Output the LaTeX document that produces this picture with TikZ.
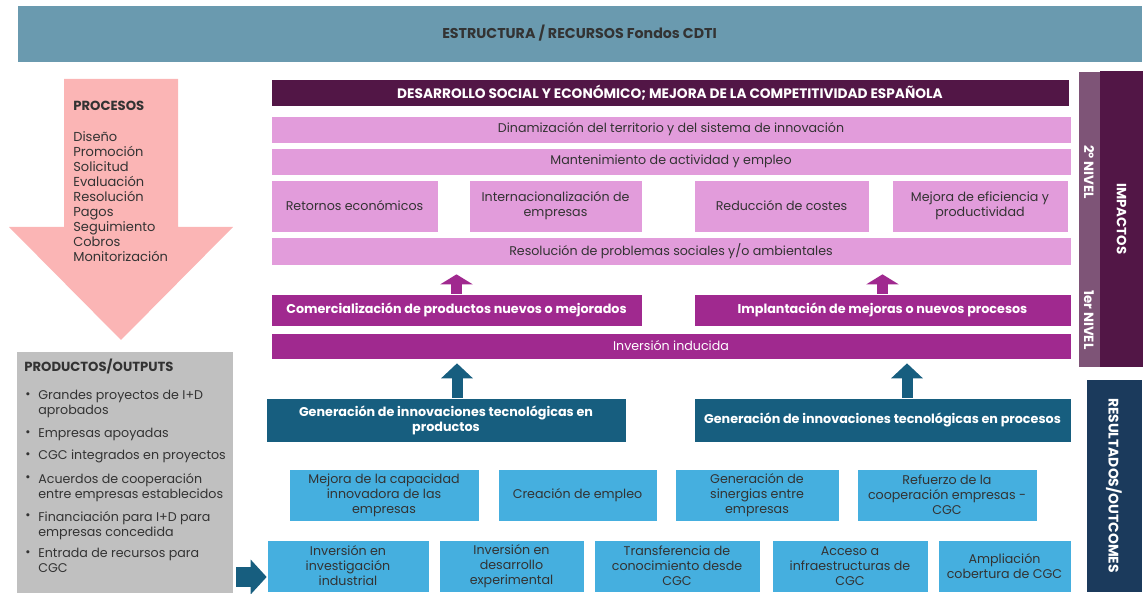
\documentclass[tikz,border=0pt]{standalone}
\usepackage{fontspec}
\setmainfont{Poppins}
\usetikzlibrary{arrows.meta}

\definecolor{banner}{HTML}{6A9AAF}
\definecolor{darkplum}{HTML}{521646}
\definecolor{lightplum}{HTML}{7E5477}
\definecolor{rosebox}{HTML}{E29CDB}
\definecolor{midplum}{HTML}{A0298F}
\definecolor{petrol}{HTML}{175E7F}
\definecolor{skyblue}{HTML}{45AFDF}
\definecolor{navy}{HTML}{1B3A5C}
\definecolor{greybox}{HTML}{C0C0C0}
\definecolor{salmon}{HTML}{FBB5B5}
\definecolor{ink}{HTML}{333333}

\begin{document}
\begin{tikzpicture}[x=0.02cm, y=-0.02cm,
	font=\fontsize{7.2}{8.54}\selectfont, text=ink,
	box/.style={draw=white, line width=0.4pt, inner sep=1pt, align=center},
	rose/.style={box, fill=rosebox},
	plum/.style={box, fill=midplum, text=white, font=\fontsize{7.25}{8.54}\selectfont\bfseries},
	petrolbox/.style={box, fill=petrol, text=white, font=\fontsize{7.25}{8.54}\selectfont\bfseries},
	sky/.style={box, fill=skyblue},
	upplum/.style={draw=midplum, line width=0.22cm, -{Triangle[width=0.64cm, length=0.2cm]}},
	uppetrol/.style={draw=petrol, line width=0.22cm, -{Triangle[width=0.62cm, length=0.3cm]}},
	sidetext/.style={rotate=-90, text=white, font=\fontsize{7.6}{8.5}\selectfont\bfseries}]
	\useasboundingbox (0,0) rectangle (1143,594);

	% top banner
	\node[box, fill=banner, minimum width=22.5cm, minimum height=1.14cm, font=\fontsize{8.1}{9}\selectfont\bfseries] (banner) at (579.5,33.5) {ESTRUCTURA / RECURSOS Fondos CDTI};

	% processes arrow
	\fill[salmon] (64,79) -- (178,79) -- (178,227) -- (233,227) -- (121,340) -- (9,227) -- (64,227) -- cycle;
	\node[anchor=north west, inner sep=0, font=\fontsize{7.5}{8.5}\selectfont\bfseries] (procesos) at (73,101) {PROCESOS};
	\node[anchor=north west, inner sep=0, align=left, font=\fontsize{7.4}{8.54}\selectfont] (pasos) at (73,131)
		{Diseño\\Promoción\\Solicitud\\Evaluación\\Resolución\\Pagos\\Seguimiento\\Cobros\\Monitorización};

	% outputs
	\node[fill=greybox, minimum width=4.32cm, minimum height=4.82cm] (outputs) at (125,472.5) {};
	\node[anchor=west, inner sep=0, font=\fontsize{7.5}{8.5}\selectfont\bfseries] (outtitle) at (24,366) {PRODUCTOS/OUTPUTS};
	\foreach \y/\t [count=\i] in {396/{Grandes proyectos de I+D\\aprobados}, 434/{Empresas apoyadas},
		456/{CGC integrados en proyectos}, 479/{Acuerdos de cooperación\\entre empresas establecidos},
		517/{Financiación para I+D para\\empresas concedida}, 554/{Entrada de recursos para\\CGC}} {
		\node[anchor=center, inner sep=0] (bul\i) at (28,\y) {•};
		\node[anchor=north west, inner sep=0, align=left] (item\i) at (38,\y-6) {\t};
	}

	% impacts
	\node[box, fill=darkplum, text=white, minimum width=15.96cm, minimum height=0.54cm, font=\fontsize{7.8}{8.5}\selectfont\bfseries] (desarrollo) at (670,92.5) {DESARROLLO SOCIAL Y ECONÓMICO; MEJORA DE LA COMPETITIVIDAD ESPAÑOLA};
	\node[rose, minimum width=16cm, minimum height=0.54cm] (dinam) at (671,129.5) {Dinamización del territorio y del sistema de innovación};
	\node[rose, minimum width=16cm, minimum height=0.54cm] (mant) at (671,161.5) {Mantenimiento de actividad y empleo};
	\node[rose, minimum width=3.34cm, minimum height=1.04cm] (retornos) at (354.5,206) {Retornos económicos};
	\node[rose, minimum width=3.46cm, minimum height=1.04cm] (internac) at (555.5,206) {Internacionalización de\\empresas};
	\node[rose, minimum width=3.5cm, minimum height=1.04cm] (costes) at (781.5,206) {Reducción de costes};
	\node[rose, minimum width=3.52cm, minimum height=1.04cm] (eficiencia) at (980,206) {Mejora de eficiencia y\\productividad};
	\node[rose, minimum width=16cm, minimum height=0.56cm] (problemas) at (671,251) {Resolución de problemas sociales y/o ambientales};
	\node[plum, minimum width=7.42cm, minimum height=0.64cm] (comerc) at (456.5,310) {Comercialización de productos nuevos o mejorados};
	\node[plum, minimum width=7.54cm, minimum height=0.64cm] (implant) at (882.5,310) {Implantación de mejoras o nuevos procesos};
	\node[box, fill=midplum, text=white, minimum width=16cm, minimum height=0.52cm] (inducida) at (671,346) {Inversión inducida};

	% outcomes
	\node[petrolbox, minimum width=7.2cm, minimum height=0.88cm] (genprod) at (446,420) {Generación de innovaciones tecnológicas en\\productos};
	\node[petrolbox, minimum width=7.54cm, minimum height=0.88cm] (genproc) at (882.5,420) {Generación de innovaciones tecnológicas en procesos};
	\node[sky, minimum width=3.8cm, minimum height=1.04cm] (capacidad) at (384,495) {Mejora de la capacidad\\innovadora de las\\empresas};
	\node[sky, minimum width=3.18cm, minimum height=1.04cm] (empleo) at (577.5,495) {Creación de empleo};
	\node[sky, minimum width=3.28cm, minimum height=1.04cm] (sinergias) at (757,495) {Generación de\\sinergias entre\\empresas};
	\node[sky, minimum width=3.6cm, minimum height=1.04cm] (refuerzo) at (947,495) {Refuerzo de la\\cooperación empresas -\\CGC};
	\node[sky, minimum width=3.24cm, minimum height=1.04cm] (investig) at (348,566) {Inversión en\\investigación\\industrial};
	\node[sky, minimum width=2.9cm, minimum height=1.04cm] (desexp) at (511.5,566) {Inversión en\\desarrollo\\experimental};
	\node[sky, minimum width=3.32cm, minimum height=1.04cm] (transfer) at (677,566) {Transferencia de\\conocimiento desde\\CGC};
	\node[sky, minimum width=3.12cm, minimum height=1.04cm] (acceso) at (850,566) {Acceso a\\infraestructuras de\\CGC};
	\node[sky, minimum width=2.66cm, minimum height=1.04cm] (cobertura) at (1004.5,566) {Ampliación\\cobertura de CGC};

	% side bars
	\node[fill=lightplum, draw=white, line width=0.4pt, minimum width=0.44cm, minimum height=5.92cm, inner sep=0] (nivel) at (1089,219) {};
	\node[fill=darkplum, minimum width=0.86cm, minimum height=5.92cm, inner sep=0] (impactos) at (1121.5,219) {};
	\node[sidetext] (impactostxt) at (impactos) {IMPACTOS};
	\node[sidetext] (nivel2) at (1089,172) {2º NIVEL};
	\node[sidetext] (nivel1) at (1089,320) {1er NIVEL};
	\node[fill=navy, draw=white, line width=0.4pt, minimum width=1.12cm, minimum height=4.26cm, inner sep=0] (resultados) at (1114,485.5) {};
	\node[sidetext, font=\fontsize{7.9}{8.5}\selectfont\bfseries] (resultadostxt) at (resultados) {RESULTADOS/OUTCOMES};

	% block arrows
	\draw[upplum] (comerc.north) -- ([yshift=-0.18cm]problemas.south -| comerc.north);
	\draw[upplum] (implant.north) -- ([yshift=-0.18cm]problemas.south -| implant.north);
	\draw[uppetrol] ([xshift=0.22cm]genprod.north) -- ([xshift=0.22cm, yshift=-0.08cm]inducida.south -| genprod.north);
	\draw[uppetrol] ([xshift=0.49cm]genproc.north) -- ([xshift=0.49cm, yshift=-0.08cm]inducida.south -| genproc.north);
	\coordinate (entrada) at ([yshift=-0.22cm]investig.west);
	\draw[draw=petrol, line width=0.4cm, -{Triangle[width=0.68cm, length=0.32cm]}] ([xshift=0.06cm]outputs.east |- entrada) -- (entrada);
\end{tikzpicture}
\end{document}
